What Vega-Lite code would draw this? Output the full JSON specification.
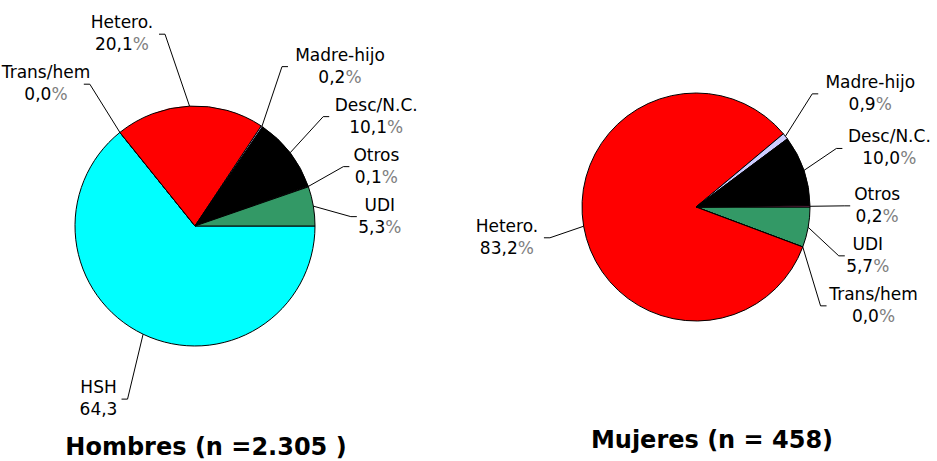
{
  "$schema": "https://vega.github.io/schema/vega-lite/v6.json",
  "background": "white",
  "padding": 0,
  "spacing": 65,
  "bounds": "flush",
  "config": {"view": {"stroke": null}, "font": "DejaVu Sans"},
  "data": {"values": [
    {"grupo": "Hombres", "orden": 1, "cat": "HSH", "pct": 64.3, "etiqueta": "64,3"},
    {"grupo": "Hombres", "orden": 2, "cat": "Trans/hem", "pct": 0.0, "etiqueta": "0,0%"},
    {"grupo": "Hombres", "orden": 3, "cat": "Hetero.", "pct": 20.1, "etiqueta": "20,1%"},
    {"grupo": "Hombres", "orden": 4, "cat": "Madre-hijo", "pct": 0.2, "etiqueta": "0,2%"},
    {"grupo": "Hombres", "orden": 5, "cat": "Desc/N.C.", "pct": 10.1, "etiqueta": "10,1%"},
    {"grupo": "Hombres", "orden": 6, "cat": "Otros", "pct": 0.1, "etiqueta": "0,1%"},
    {"grupo": "Hombres", "orden": 7, "cat": "UDI", "pct": 5.3, "etiqueta": "5,3%"},
    {"grupo": "Mujeres", "orden": 1, "cat": "UDI", "pct": 5.7, "etiqueta": "5,7%"},
    {"grupo": "Mujeres", "orden": 2, "cat": "Trans/hem", "pct": 0.0, "etiqueta": "0,0%"},
    {"grupo": "Mujeres", "orden": 3, "cat": "Hetero.", "pct": 83.2, "etiqueta": "83,2%"},
    {"grupo": "Mujeres", "orden": 4, "cat": "Madre-hijo", "pct": 0.9, "etiqueta": "0,9%"},
    {"grupo": "Mujeres", "orden": 5, "cat": "Desc/N.C.", "pct": 10.0, "etiqueta": "10,0%"},
    {"grupo": "Mujeres", "orden": 6, "cat": "Otros", "pct": 0.2, "etiqueta": "0,2%"}
  ]},
  "transform": [
    {"joinaggregate": [{"op": "sum", "field": "pct", "as": "total"}], "groupby": ["grupo"]},
    {"window": [{"op": "sum", "field": "pct", "as": "cum"}], "groupby": ["grupo"], "sort": [{"field": "orden"}], "frame": [null, 0]},
    {"calculate": "PI/2 + 2*PI*(datum.cum - datum.pct/2)/datum.total", "as": "mid"},
    {"calculate": "datum.grupo == 'Hombres' ? 120 : 114", "as": "R"},
    {"calculate": "datum.grupo == 'Hombres' ? 255 : 241", "as": "hwR"},
    {"calculate": "datum.grupo == 'Hombres' ? 195 : 241", "as": "hwL"},
    {"calculate": "datum.R*1.3", "as": "rx"},
    {"calculate": "datum.R*1.6", "as": "ry"},
    {"calculate": "sin(datum.mid) >= 0 ? 1 : -1", "as": "side"},
    {"calculate": "-datum.ry*cos(datum.mid)", "as": "y0"},
    {"window": [{"op": "row_number", "as": "rk"}], "groupby": ["grupo", "side"], "sort": [{"field": "y0"}]},
    {"calculate": "datum.y0 - datum.rk*50", "as": "t"},
    {"window": [{"op": "max", "field": "t", "as": "tm"}], "groupby": ["grupo", "side"], "sort": [{"field": "y0"}], "frame": [null, 0]},
    {"calculate": "datum.tm + datum.rk*50", "as": "ly"},
    {"calculate": "datum.side*max(datum.rx*sqrt(max(1 - pow(datum.ly/datum.ry, 2), 0)), 30)", "as": "lx"},
    {"calculate": "datum.R*sin(datum.mid)", "as": "sx"},
    {"calculate": "-datum.R*cos(datum.mid)", "as": "sy"},
    {"calculate": "datum.lx + datum.side*6", "as": "kx"},
    {"calculate": "max(length(datum.cat)*10, length(datum.etiqueta)*10.5)", "as": "w"},
    {"calculate": "datum.lx + datum.side*(8 + datum.w/2)", "as": "cx0"},
    {"calculate": "datum.side > 0 ? min(datum.cx0, datum.hwR - datum.w/2 - 2) : max(datum.cx0, -datum.hwL + datum.w/2 + 1)", "as": "cx"},
    {"calculate": "replace(datum.etiqueta, '%', '')", "as": "num"},
    {"calculate": "indexof(datum.etiqueta, '%') >= 0 ? '%' : ''", "as": "pc"},
    {"calculate": "length(datum.num)*10.8 - 5.4", "as": "wn"},
    {"calculate": "datum.pc == '%' ? 16.2 : 0", "as": "wp"},
    {"calculate": "datum.cx + (datum.wn - datum.wp)/2", "as": "ax"}
  ],
  "hconcat": [
    {
      "width": 390,
      "height": 452,
      "title": {"text": "Hombres (n =2.305 )", "orient": "bottom", "anchor": "middle", "frame": "group", "fontSize": 24, "font": "DejaVu Sans", "fontWeight": "bold", "color": "black", "baseline": "alphabetic", "offset": 3, "dx": 11},
      "transform": [{"filter": "datum.grupo == 'Hombres'"}],
      "layer": [
        {
          "mark": {"type": "arc", "outerRadius": 120, "stroke": "black", "strokeWidth": 1},
          "encoding": {
            "theta": {"field": "pct", "type": "quantitative", "stack": true, "scale": {"range": [1.5708, 7.854], "nice": false}},
            "order": {"field": "orden", "type": "quantitative"},
            "color": {"field": "cat", "type": "nominal", "legend": null,
              "scale": {"domain": ["HSH", "Trans/hem", "Hetero.", "Madre-hijo", "Desc/N.C.", "Otros", "UDI"],
                        "range": ["#00FFFF", "#FFFFFF", "#FF0000", "#CCCCFF", "#000000", "#993366", "#339966"]}}
          }
        },
        {
          "mark": {"type": "rule", "color": "black", "strokeWidth": 1},
          "encoding": {
            "x": {"field": "sx", "type": "quantitative", "scale": {"domain": [-195, 195], "nice": false, "zero": false}, "axis": null},
            "y": {"field": "sy", "type": "quantitative", "scale": {"domain": [-226, 226], "nice": false, "zero": false, "reverse": true}, "axis": null},
            "x2": {"field": "lx"},
            "y2": {"field": "ly"}
          }
        },
        {
          "mark": {"type": "rule", "color": "black", "strokeWidth": 1},
          "encoding": {
            "x": {"field": "lx", "type": "quantitative", "scale": {"domain": [-195, 195], "nice": false, "zero": false}, "axis": null},
            "y": {"field": "ly", "type": "quantitative", "scale": {"domain": [-226, 226], "nice": false, "zero": false, "reverse": true}, "axis": null},
            "x2": {"field": "kx"}
          }
        },
        {
          "mark": {"type": "text", "fontSize": 17, "font": "DejaVu Sans", "color": "black", "align": "center", "baseline": "middle", "dy": -11},
          "encoding": {
            "x": {"field": "cx", "type": "quantitative", "scale": {"domain": [-195, 195], "nice": false, "zero": false}, "axis": null},
            "y": {"field": "ly", "type": "quantitative", "scale": {"domain": [-226, 226], "nice": false, "zero": false, "reverse": true}, "axis": null},
            "text": {"field": "cat"}
          }
        },
        {
          "mark": {"type": "text", "fontSize": 17, "font": "DejaVu Sans", "color": "black", "align": "right", "baseline": "middle", "dy": 11},
          "encoding": {
            "x": {"field": "ax", "type": "quantitative", "scale": {"domain": [-195, 195], "nice": false, "zero": false}, "axis": null},
            "y": {"field": "ly", "type": "quantitative", "scale": {"domain": [-226, 226], "nice": false, "zero": false, "reverse": true}, "axis": null},
            "text": {"field": "num"}
          }
        },
        {
          "mark": {"type": "text", "fontSize": 17, "font": "DejaVu Sans", "color": "#808080", "align": "left", "baseline": "middle", "dy": 11},
          "encoding": {
            "x": {"field": "ax", "type": "quantitative", "scale": {"domain": [-195, 195], "nice": false, "zero": false}, "axis": null},
            "y": {"field": "ly", "type": "quantitative", "scale": {"domain": [-226, 226], "nice": false, "zero": false, "reverse": true}, "axis": null},
            "text": {"field": "pc"}
          }
        }
      ]
    },
    {
      "width": 482,
      "height": 414,
      "title": {"text": "Mujeres (n = 458)", "orient": "bottom", "anchor": "middle", "frame": "group", "fontSize": 24, "font": "DejaVu Sans", "fontWeight": "bold", "color": "black", "baseline": "alphabetic", "offset": 34, "dx": 16},
      "transform": [{"filter": "datum.grupo == 'Mujeres'"}],
      "layer": [
        {
          "mark": {"type": "arc", "outerRadius": 114, "stroke": "black", "strokeWidth": 1},
          "encoding": {
            "theta": {"field": "pct", "type": "quantitative", "stack": true, "scale": {"range": [1.5708, 7.854], "nice": false}},
            "order": {"field": "orden", "type": "quantitative"},
            "color": {"field": "cat", "type": "nominal", "legend": null,
              "scale": {"domain": ["HSH", "Trans/hem", "Hetero.", "Madre-hijo", "Desc/N.C.", "Otros", "UDI"],
                        "range": ["#00FFFF", "#FFFFFF", "#FF0000", "#CCCCFF", "#000000", "#993366", "#339966"]}}
          }
        },
        {
          "mark": {"type": "rule", "color": "black", "strokeWidth": 1},
          "encoding": {
            "x": {"field": "sx", "type": "quantitative", "scale": {"domain": [-241, 241], "nice": false, "zero": false}, "axis": null},
            "y": {"field": "sy", "type": "quantitative", "scale": {"domain": [-207, 207], "nice": false, "zero": false, "reverse": true}, "axis": null},
            "x2": {"field": "lx"},
            "y2": {"field": "ly"}
          }
        },
        {
          "mark": {"type": "rule", "color": "black", "strokeWidth": 1},
          "encoding": {
            "x": {"field": "lx", "type": "quantitative", "scale": {"domain": [-241, 241], "nice": false, "zero": false}, "axis": null},
            "y": {"field": "ly", "type": "quantitative", "scale": {"domain": [-207, 207], "nice": false, "zero": false, "reverse": true}, "axis": null},
            "x2": {"field": "kx"}
          }
        },
        {
          "mark": {"type": "text", "fontSize": 17, "font": "DejaVu Sans", "color": "black", "align": "center", "baseline": "middle", "dy": -11},
          "encoding": {
            "x": {"field": "cx", "type": "quantitative", "scale": {"domain": [-241, 241], "nice": false, "zero": false}, "axis": null},
            "y": {"field": "ly", "type": "quantitative", "scale": {"domain": [-207, 207], "nice": false, "zero": false, "reverse": true}, "axis": null},
            "text": {"field": "cat"}
          }
        },
        {
          "mark": {"type": "text", "fontSize": 17, "font": "DejaVu Sans", "color": "black", "align": "right", "baseline": "middle", "dy": 11},
          "encoding": {
            "x": {"field": "ax", "type": "quantitative", "scale": {"domain": [-241, 241], "nice": false, "zero": false}, "axis": null},
            "y": {"field": "ly", "type": "quantitative", "scale": {"domain": [-207, 207], "nice": false, "zero": false, "reverse": true}, "axis": null},
            "text": {"field": "num"}
          }
        },
        {
          "mark": {"type": "text", "fontSize": 17, "font": "DejaVu Sans", "color": "#808080", "align": "left", "baseline": "middle", "dy": 11},
          "encoding": {
            "x": {"field": "ax", "type": "quantitative", "scale": {"domain": [-241, 241], "nice": false, "zero": false}, "axis": null},
            "y": {"field": "ly", "type": "quantitative", "scale": {"domain": [-207, 207], "nice": false, "zero": false, "reverse": true}, "axis": null},
            "text": {"field": "pc"}
          }
        }
      ]
    }
  ]
}
